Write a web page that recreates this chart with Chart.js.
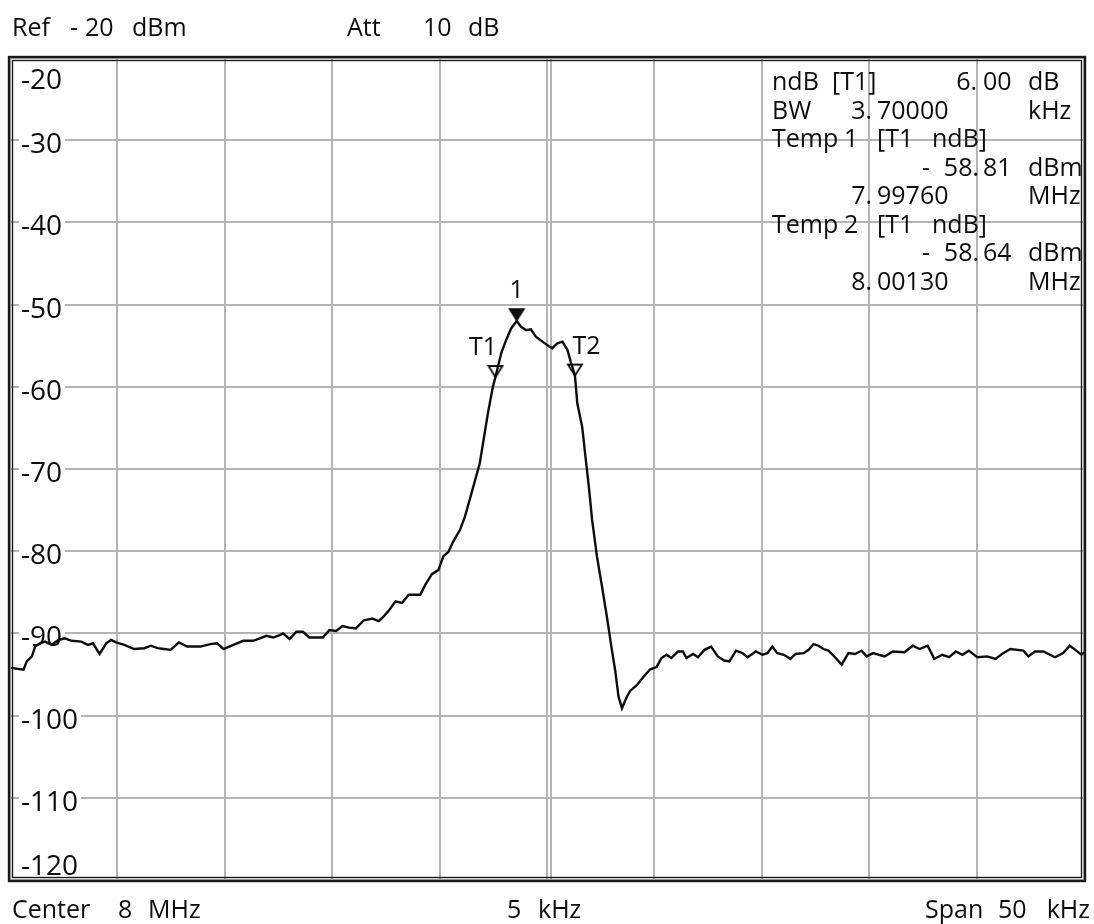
<!DOCTYPE html>
<html>
<head>
<meta charset="utf-8">
<title>Spectrum - ndB bandwidth</title>
<script src="https://cdn.jsdelivr.net/npm/chart.js@4.4.0/dist/chart.umd.min.js"></script>
<style>
  html, body { margin: 0; padding: 0; background: #fff; }
  #wrap { width: 1094px; height: 924px; }
</style>
</head>
<body>
<div id="wrap"><canvas id="spec" width="1094" height="924"></canvas></div>
<script>
// Trace: offset from 8 MHz centre (kHz) and level (dBm)
const freqKHz = [
  -24.95, -24.37, -24.22, -23.98, -23.83, -23.6, -23.37, -23.06, -22.75, -22.45,
  -22.14, -21.68, -21.37, -21.14, -20.83, -20.52, -20.29, -20.06, -19.68, -19.22,
  -18.75, -18.44, -18.13, -17.83, -17.52, -17.14, -16.75, -16.14, -15.67, -15.36,
  -15.06, -14.6, -14.14, -13.68, -13.37, -13.06, -12.75, -12.44, -12.29, -11.98,
  -11.67, -11.37, -11.06, -10.44, -10.13, -9.82, -9.52, -9.21, -8.9, -8.52,
  -8.13, -7.83, -7.59, -7.36, -7.05, -6.75, -6.44, -5.9, -5.67, -5.36,
  -5.06, -4.82, -4.59, -4.36, -4.05, -3.82, -3.52, -3.13, -2.98, -2.75,
  -2.52, -2.4, -2.13, -1.9, -1.67, -1.41, -1.21, -0.98, -0.75, -0.52,
  -0.21, 0.1, 0.25, 0.48, 0.72, 0.95, 1.1, 1.3, 1.41, 1.64,
  1.79, 1.95, 2.1, 2.33, 2.56, 2.79, 3.02, 3.18, 3.33, 3.49,
  3.72, 3.87, 4.18, 4.49, 4.79, 5.1, 5.33, 5.56, 5.79, 6.1,
  6.33, 6.49, 6.8, 7.03, 7.33, 7.64, 7.95, 8.25, 8.49, 8.8,
  9.1, 9.34, 9.72, 10.03, 10.26, 10.49, 10.72, 11.03, 11.33, 11.57,
  11.95, 12.18, 12.41, 12.64, 12.87, 13.1, 13.41, 13.72, 14.03, 14.34,
  14.64, 14.88, 15.18, 15.72, 16.1, 16.64, 17.03, 17.34, 17.72, 18.03,
  18.41, 18.72, 19.03, 19.34, 19.64, 20.03, 20.49, 20.88, 21.18, 21.57,
  22.18, 22.41, 22.72, 23.11, 23.65, 24.03, 24.34, 24.64, 24.88, 25
];
const levelDbm = [
  -94.2, -94.4, -93.4, -92.8, -91.6, -91.2, -91.0, -91.4, -90.8, -90.6,
  -90.9, -91.0, -91.4, -91.2, -92.5, -91.2, -90.8, -91.1, -91.4, -91.9,
  -91.8, -91.5, -91.8, -91.9, -92.0, -91.1, -91.6, -91.6, -91.3, -91.2,
  -91.9, -91.4, -90.9, -90.9, -90.6, -90.3, -90.5, -90.2, -90.0, -90.7,
  -89.8, -89.8, -90.5, -90.5, -89.6, -89.7, -89.1, -89.3, -89.4, -88.4,
  -88.2, -88.5, -87.9, -87.2, -86.1, -86.3, -85.3, -85.3, -84.1, -82.8,
  -82.3, -80.6, -80.1, -78.8, -77.4, -75.8, -73.0, -69.3, -66.9, -63.2,
  -60.0, -58.8, -55.9, -54.3, -52.9, -52.0, -52.7, -53.1, -53.0, -53.9,
  -54.5, -55.1, -55.3, -54.7, -54.5, -55.5, -56.9, -58.6, -62.0, -64.9,
  -68.5, -72.2, -76.2, -80.7, -84.3, -88.0, -92.0, -94.6, -97.7, -99.1,
  -97.7, -97.0, -96.3, -95.3, -94.4, -94.1, -93.0, -92.6, -93.0, -92.2,
  -92.2, -93.0, -92.5, -92.9, -92.0, -91.6, -92.8, -93.3, -93.4, -92.1,
  -92.4, -92.9, -92.2, -92.6, -92.4, -91.6, -92.4, -92.6, -93.1, -92.5,
  -92.4, -92.0, -91.3, -91.5, -91.9, -92.1, -92.9, -93.8, -92.4, -92.5,
  -92.1, -92.8, -92.4, -92.8, -92.2, -92.3, -91.5, -91.9, -91.5, -93.1,
  -92.6, -92.9, -92.2, -92.6, -92.1, -92.9, -92.8, -93.1, -92.5, -91.9,
  -92.1, -92.8, -92.2, -92.2, -92.9, -92.4, -91.5, -92.1, -92.6, -92.3
];

// Axis ticks
const yTickLabels = [-20, -30, -40, -50, -60, -70, -80, -90, -100, -110, -120];
const spanKHz = [-25, 25];
const divKHz = 5;

// Markers: peak marker 1 and the two ndB points
const markerNames = ['1', 'T1', 'T2'];
const markerKHz = [-1.41, -2.4, 1.3];
const markerDbm = [-51.9, -58.81, -58.64];
const markerFilled = [true, false, false];

// second vertical line just right of centre (display line)
const displayLineKHz = 0.17;

const FONT = '"Open Sans", "Noto Sans", sans-serif';
const INK = '#0d0d0d';

function triangleStyle(filled) {
  const c = document.createElement('canvas');
  c.width = 18; c.height = 26;
  const g = c.getContext('2d');
  g.beginPath();
  g.moveTo(2, 2);
  g.lineTo(16, 2);
  g.lineTo(9, 13);
  g.closePath();
  g.lineWidth = 1.8;
  g.strokeStyle = INK;
  g.fillStyle = filled ? INK : '#fff';
  g.fill();
  g.stroke();
  return c;
}

const analyzerScreen = {
  id: 'analyzerScreen',
  beforeDraw(chart) {
    const ctx = chart.ctx;
    ctx.save();
    ctx.fillStyle = '#fff';
    ctx.fillRect(0, 0, chart.width, chart.height);
    ctx.restore();
  },
  beforeDatasetsDraw(chart) {
    const { ctx, chartArea: a, scales: { x, y } } = chart;
    ctx.save();
    // display line next to the centre grid line
    const dx = Math.round(x.getPixelForValue(displayLineKHz));
    ctx.strokeStyle = '#b4b4b4';
    ctx.lineWidth = 2;
    ctx.beginPath();
    ctx.moveTo(dx, a.top);
    ctx.lineTo(dx, a.bottom);
    ctx.stroke();

    // level labels inside the screen, on a white patch
    ctx.font = '28px ' + FONT;
    ctx.textAlign = 'left';
    ctx.textBaseline = 'alphabetic';
    yTickLabels.forEach(v => {
      const py = y.getPixelForValue(v);
      const base = Math.min(Math.max(py + 13, a.top + 31), a.bottom - 5);
      const s = String(v);
      const w = ctx.measureText(s).width;
      ctx.fillStyle = '#fff';
      ctx.fillRect(a.left + 9, base - 22, w + 5, 23);
      ctx.fillStyle = INK;
      ctx.fillText(s, a.left + 11, base);
    });
    ctx.restore();
  },
  afterDatasetsDraw(chart) {
    const { ctx, chartArea: a, scales: { x, y } } = chart;
    ctx.save();
    // marker names
    ctx.font = '25px ' + FONT;
    ctx.fillStyle = INK;
    ctx.textAlign = 'center';
    const shift = { '1': 0, 'T1': -12.5, 'T2': 11.5 };
    markerNames.forEach((n, i) => {
      const px = x.getPixelForValue(markerKHz[i]);
      const py = y.getPixelForValue(markerDbm[i]);
      ctx.fillText(n, px + shift[n], py - 22);
    });

    // frame
    ctx.strokeStyle = '#1a1a1a';
    ctx.lineWidth = 2.4;
    ctx.strokeRect(a.left - 1, a.top - 1, a.right - a.left + 2, a.bottom - a.top + 2);
    ctx.lineWidth = 1.4;
    ctx.strokeRect(a.left + 2.5, a.top + 2.5, a.right - a.left - 5, a.bottom - a.top - 5);
    ctx.restore();
  },
  afterDraw(chart) {
    const ctx = chart.ctx;
    ctx.save();
    ctx.font = '25px ' + FONT;
    ctx.fillStyle = INK;
    ctx.textBaseline = 'alphabetic';
    const put = (s, px, py, al) => { ctx.textAlign = al || 'left'; ctx.fillText(s, px, py); };

    // header
    put('Ref', 12, 36); put('-', 70, 36); put('20', 85, 36); put('dBm', 132, 36);
    put('Att', 347, 36); put('10', 423, 36); put('dB', 468, 36);

    // footer
    put('Center', 12, 918); put('8', 118, 918); put('MHz', 148, 918);
    put('5', 507, 918); put('kHz', 538, 918);
    put('Span', 925, 918); put('50', 998, 918); put('kHz', 1090, 918, 'right');

    // marker info block
    const b = i => 90 + i * 28.5;
    put('ndB', 772, b(0)); put('[T1]', 832, b(0)); put('6.', 977, b(0), 'right'); put('00', 983, b(0)); put('dB', 1028, b(0));
    put('BW', 772, b(1)); put('3.', 872, b(1), 'right'); put('70000', 877, b(1)); put('kHz', 1028, b(1));
    put('Temp', 772, b(2)); put('1', 844, b(2)); put('[T1', 877, b(2)); put('ndB]', 932, b(2));
    put('-', 922, b(3)); put('58.', 979, b(3), 'right'); put('81', 983, b(3)); put('dBm', 1028, b(3));
    put('7.', 872, b(4), 'right'); put('99760', 877, b(4)); put('MHz', 1028, b(4));
    put('Temp', 772, b(5)); put('2', 844, b(5)); put('[T1', 877, b(5)); put('ndB]', 932, b(5));
    put('-', 922, b(6)); put('58.', 979, b(6), 'right'); put('64', 983, b(6)); put('dBm', 1028, b(6));
    put('8.', 872, b(7), 'right'); put('00130', 877, b(7)); put('MHz', 1028, b(7));
    ctx.restore();
  }
};

const trace = freqKHz.map((f, i) => ({ x: f, y: levelDbm[i] }));
const markers = markerKHz.map((f, i) => ({ x: f, y: markerDbm[i] }));

const gridStyle = { color: '#b4b4b4', lineWidth: 2, drawTicks: false };

new Chart(document.getElementById('spec').getContext('2d'), {
  type: 'line',
  data: {
    datasets: [
      {
        label: 'Trace',
        data: trace,
        borderColor: INK,
        borderWidth: 2.4,
        pointRadius: 0,
        tension: 0,
        fill: false
      },
      {
        label: 'Markers',
        type: 'scatter',
        data: markers,
        pointStyle: markerFilled.map(triangleStyle),
        pointRadius: 9,
        showLine: false
      }
    ]
  },
  options: {
    responsive: false,
    animation: false,
    devicePixelRatio: 1,
    layout: { padding: { left: 8, top: 58, right: 3, bottom: 44 } },
    plugins: { legend: { display: false }, tooltip: { enabled: false } },
    scales: {
      x: {
        type: 'linear',
        min: spanKHz[0],
        max: spanKHz[1],
        ticks: { stepSize: divKHz, display: false },
        grid: gridStyle,
        border: { display: false },
        afterFit: s => { s.height = 0; }
      },
      y: {
        type: 'linear',
        min: yTickLabels[yTickLabels.length - 1],
        max: yTickLabels[0],
        ticks: { stepSize: 10, display: false },
        grid: gridStyle,
        border: { display: false },
        afterFit: s => { s.width = 0; }
      }
    }
  },
  plugins: [analyzerScreen]
});
</script>
</body>
</html>
